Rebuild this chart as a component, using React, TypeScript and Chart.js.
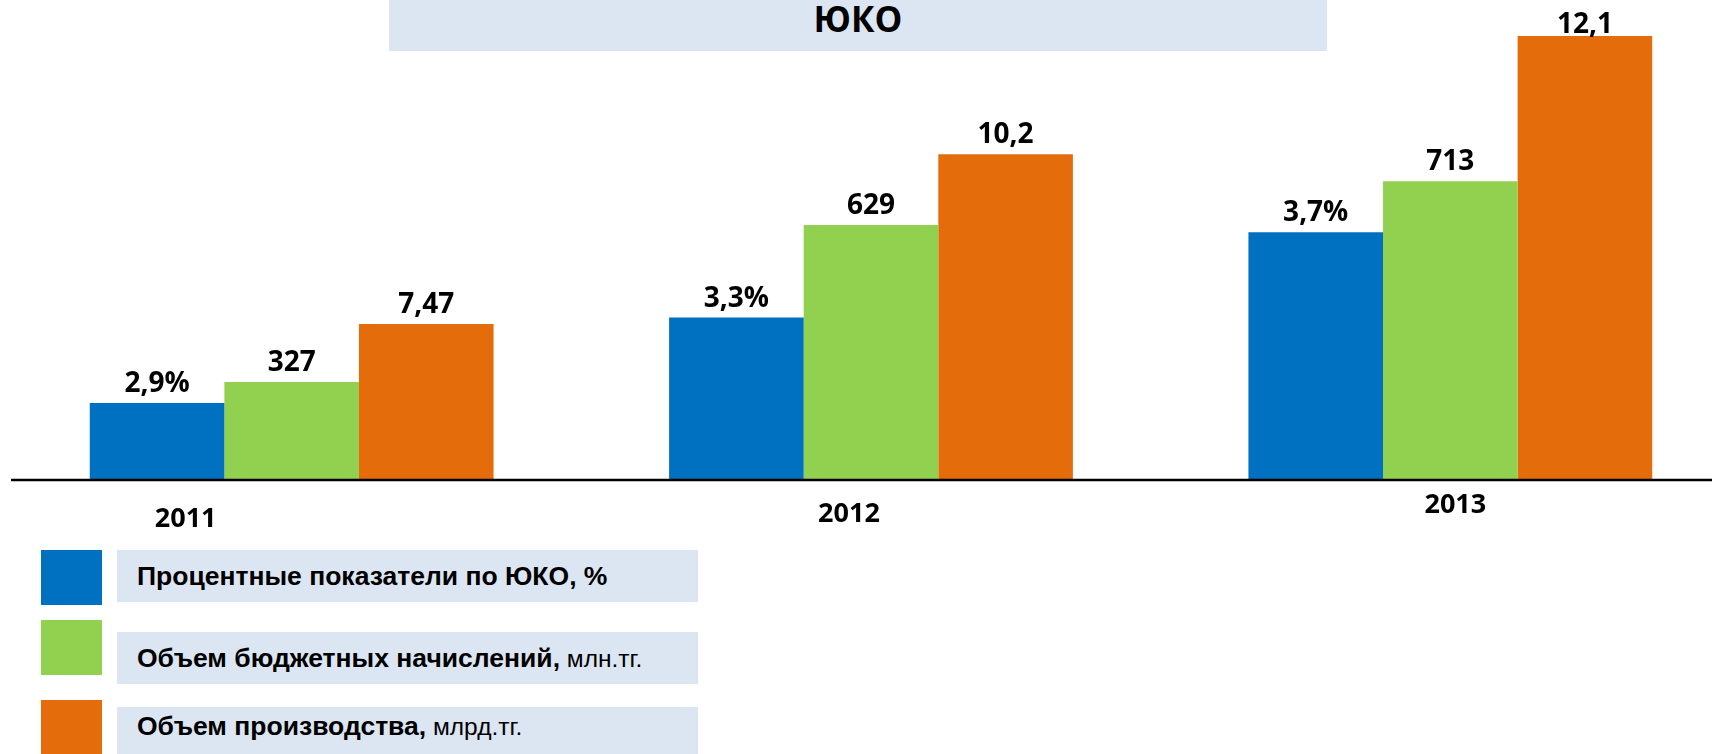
import React, { useEffect, useRef } from "react";
import { Chart, registerables } from "chart.js";

Chart.register(...registerables);

// ---- data ----
const chartTitle = "ЮКО";
const years = ["2011", "2012", "2013"];
const percentValues = [2.9, 3.3, 3.7];
const budgetValues = [327, 629, 713];
const productionValues = [7.47, 10.2, 12.1];
const seriesNames = [
  "Процентные показатели по ЮКО, %",
  "Объем бюджетных начислений,",
  "Объем производства,",
];
const seriesUnits = ["", " млн.тг.", " млрд.тг."];
const valueSuffixes = ["%", "", ""];

// ---- style ----
const seriesColors = ["#0070C0", "#92D050", "#E46C0A"];
const panelColor = "#DCE6F2";
const yearLabelDx = [-106, -22, 5];
const yearLabelDy = [48, 43, 34];

const fmt = (v: number) => String(v).replace(".", ",");

const overlayPlugin = {
  id: "overlay",
  afterDatasetsDraw(chart: any) {
    const ctx = chart.ctx;
    const area = chart.chartArea;
    ctx.save();
    // baseline
    ctx.strokeStyle = "#000";
    ctx.lineWidth = 2.5;
    ctx.beginPath();
    ctx.moveTo(11, area.bottom + 1);
    ctx.lineTo(chart.width, area.bottom + 1);
    ctx.stroke();
    // value labels
    ctx.fillStyle = "#000";
    ctx.textAlign = "center";
    ctx.textBaseline = "alphabetic";
    ctx.font = 'bold 28px "Open Sans"';
    chart.data.datasets.forEach((ds: any, di: number) => {
      const meta = chart.getDatasetMeta(di);
      meta.data.forEach((bar: any, i: number) => {
        const text = fmt(ds.data[i]) + (ds.valueSuffix || "");
        const y = Math.max(bar.y - 11, 33);
        ctx.fillText(text, bar.x, y);
      });
    });
    // year labels
    ctx.font = 'bold 27px "Open Sans"';
    const xs = chart.scales.x;
    years.forEach((yr, i) => {
      ctx.fillText(yr, xs.getPixelForValue(i) + yearLabelDx[i], area.bottom + yearLabelDy[i]);
    });
    ctx.restore();
  },
};

export default function App() {
  const canvasRef = useRef<HTMLCanvasElement | null>(null);

  useEffect(() => {
    if (!canvasRef.current) return;
    const chart = new Chart(canvasRef.current, {
      type: "bar",
      data: {
        labels: years,
        datasets: [
          {
            label: seriesNames[0],
            data: percentValues,
            backgroundColor: seriesColors[0],
            yAxisID: "yPercent",
            valueSuffix: valueSuffixes[0],
          } as any,
          {
            label: seriesNames[1],
            data: budgetValues,
            backgroundColor: seriesColors[1],
            yAxisID: "yBudget",
            valueSuffix: valueSuffixes[1],
          } as any,
          {
            label: seriesNames[2],
            data: productionValues,
            backgroundColor: seriesColors[2],
            yAxisID: "yProduction",
            valueSuffix: valueSuffixes[2],
          } as any,
        ],
      },
      options: {
        responsive: false,
        animation: false,
        layout: { padding: { left: 2, right: 0, top: 0, bottom: 275 } },
        datasets: {
          bar: { barPercentage: 1, categoryPercentage: 0.697, borderWidth: 0 },
        },
        plugins: {
          legend: { display: false },
          tooltip: { enabled: false },
          title: { display: false },
        },
        scales: {
          x: { display: false, stacked: false, offset: true, grid: { display: false } },
          yPercent: { type: "linear", display: false, min: 2.545, max: 4.786 },
          yBudget: { type: "linear", display: false, min: 140.4, max: 1061.4 },
          yProduction: { type: "linear", display: false, min: 4.978, max: 12.679 },
        },
      },
      plugins: [overlayPlugin],
    });
    return () => chart.destroy();
  }, []);

  const squareTops = [550, 620, 700];
  const boxTops = [550, 632, 707];
  const textBaselines = [585, 667, 735];

  return (
    <div
      style={{
        position: "absolute",
        left: 0,
        top: 0,
        width: 1712,
        height: 754,
        overflow: "hidden",
        background: "#fff",
      }}
    >
      <canvas
        ref={canvasRef}
        width={1740}
        height={754}
        style={{ position: "absolute", left: 0, top: 0, display: "block" }}
      />
      <div
        style={{
          position: "absolute",
          left: 389,
          top: 0,
          width: 938,
          height: 51,
          background: panelColor,
        }}
      >
        <div
          style={{
            position: "absolute",
            left: 0,
            right: 0,
            top: 1,
            textAlign: "center",
            fontFamily: '"Open Sans", sans-serif',
            fontWeight: 700,
            fontSize: 35,
            lineHeight: "35px",
            color: "#000",
          }}
        >
          {chartTitle}
        </div>
      </div>
      {seriesNames.map((name, i) => (
        <React.Fragment key={name}>
          <div
            style={{
              position: "absolute",
              left: 41,
              top: squareTops[i],
              width: 61,
              height: 55,
              background: seriesColors[i],
            }}
          />
          <div
            style={{
              position: "absolute",
              left: 117,
              top: boxTops[i],
              width: 581,
              height: 52,
              background: panelColor,
            }}
          />
          <div
            style={{
              position: "absolute",
              left: 137,
              top: textBaselines[i] - 22,
              whiteSpace: "nowrap",
              fontFamily: '"Liberation Sans", Arial, sans-serif',
              fontSize: 26.5,
              lineHeight: "26px",
              color: "#000",
            }}
          >
            <span style={{ fontWeight: 700 }}>{name}</span>
            {seriesUnits[i] ? (
              <span style={{ fontWeight: 400, fontSize: 24.5 }}>{seriesUnits[i]}</span>
            ) : null}
          </div>
        </React.Fragment>
      ))}
    </div>
  );
}
